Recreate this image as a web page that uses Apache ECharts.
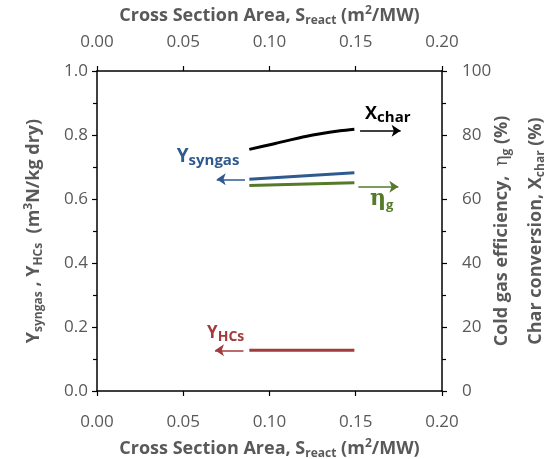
<!DOCTYPE html>
<html><head><meta charset="utf-8">
<script src="https://cdn.jsdelivr.net/npm/echarts@6/dist/echarts.min.js"></script>
<style>html,body{margin:0;padding:0;background:#fff}#c{width:547px;height:459px}</style>
</head><body><div id="c"></div>
<script>
// ---- data ----
const xTicks = [0.00, 0.05, 0.10, 0.15, 0.20];
const leftTicks = [0.0, 0.2, 0.4, 0.6, 0.8, 1.0];
const rightTicks = [0, 20, 40, 60, 80, 100];
// Char conversion X_char (%), right axis
const xcharX = [0.0883, 0.1022, 0.1216, 0.1409, 0.1492];
const xcharY = [75.5, 77.2, 79.6, 81.3, 81.8];
// Syngas yield (m3N/kg dry), left axis
const syngasX = [0.0883, 0.1492];
const syngasY = [0.662, 0.682];
// Cold gas efficiency (%), right axis
const etaX = [0.0883, 0.1492];
const etaY = [64.2, 65.1];
// HCs yield, left axis
const hcsX = [0.0883, 0.1492];
const hcsY = [0.127, 0.127];
// arrows: [x start, x end, y]
const arrowXchar = [0.1525, 0.176, 81.3];
const arrowEta = [0.1515, 0.1747, 63.8];
const arrowSyngas = [0.0858, 0.0694, 0.6616];
const arrowHcs = [0.0849, 0.0684, 0.127];
// label anchors: [x, y]
const labXchar = [0.1554, 86.5];
const labEta = [0.1583, 60.0];
const labSyngas = [0.0462, 0.733];
const labHcs = [0.0638, 0.181];

const C_BLACK = '#000000', C_BLUE = '#2F5A8F', C_GREEN = '#557A2A', C_RED = '#A23B3B';
const GREY = '#595959';
const FONT = 'Open Sans';

function pairs(xs, ys){ return xs.map((x,i)=>[x, ys[i]]); }
function arrow(a, color){
  return {
    silent: true, animation: false, symbol: ['none','arrow'], symbolSize: 9,
    label: {show:false},
    lineStyle: {color: color, width: 1.5, type: 'solid'},
    emphasis: {disabled: true},
    data: [[{coord:[a[0], a[2]]}, {coord:[a[1], a[2]]}]]
  };
}
function lab(pos, color, main, sub, mainSize, subSize, mainFont){
  return {
    silent: true, animation: false, symbol: 'circle', symbolSize: 0,
    data: [{coord: pos}],
    label: {
      show: true, position: 'inside', align: 'left', verticalAlign: 'middle',
      formatter: '{m|' + main + '}{s|' + sub + '}',
      rich: {
        m: {fontFamily: mainFont || FONT, fontWeight: 'bold', fontSize: mainSize, color: color, lineHeight: mainSize + 4, verticalAlign: 'middle'},
        s: {fontFamily: FONT, fontWeight: 'bold', fontSize: subSize, color: color, lineHeight: subSize, verticalAlign: 'bottom'}
      }
    }
  };
}
function titleRich(lh){
  return {
    t: {fontFamily: FONT, fontWeight: 'bold', fontSize: 18, color: GREY, lineHeight: lh, verticalAlign: 'middle'},
    sub: {fontFamily: FONT, fontWeight: 'bold', fontSize: 12, color: GREY, lineHeight: 12, verticalAlign: 'bottom', padding: [0,0,Math.max(0,(lh-22)/2),0]},
    sup: {fontFamily: FONT, fontWeight: 'bold', fontSize: 12, color: GREY, lineHeight: 12, verticalAlign: 'top', padding: [Math.max(0,(lh-22)/2),0,0,0]},
    g: {fontFamily: 'DejaVu Serif', fontWeight: 'normal', fontSize: 18, color: GREY, lineHeight: lh, verticalAlign: 'middle'}
  };
}
const xName = '{t|Cross Section Area, S}{sub|react}{t| (m}{sup|2}{t|/MW)}';

const axisLine = {show: true, onZero: false, lineStyle: {color: '#000', width: 1.5}};
const tickStyle = {show: true, length: 5, lineStyle: {color: '#000', width: 1.2}};
const labelStyle = {color: GREY, fontFamily: FONT, fontSize: 17};

const chart = echarts.init(document.getElementById('c'), null, {renderer: 'canvas'});
chart.setOption({
  animation: false,
  backgroundColor: '#fff',
  grid: {left: 97, right: 105, top: 71, bottom: 68, containLabel: false, outerBoundsMode: 'none'},
  xAxis: [
    {type: 'value', position: 'bottom', min: xTicks[0], max: xTicks[xTicks.length-1], interval: 0.05,
     axisLine: axisLine, axisTick: tickStyle, splitLine: {show:false},
     axisLabel: Object.assign({margin: 23, formatter: v => v.toFixed(2)}, labelStyle),
     name: xName, nameLocation: 'middle', nameGap: 47, nameMoveOverlap: false, nameTextStyle: {rich: titleRich(22)}},
    {type: 'value', position: 'top', min: xTicks[0], max: xTicks[xTicks.length-1], interval: 0.05,
     axisLine: axisLine, axisTick: tickStyle, splitLine: {show:false},
     axisLabel: Object.assign({margin: 20, formatter: v => v.toFixed(2)}, labelStyle),
     name: xName, nameLocation: 'middle', nameGap: 44, nameMoveOverlap: false, nameTextStyle: {rich: titleRich(22)}}
  ],
  yAxis: [
    {type: 'value', position: 'left', min: leftTicks[0], max: leftTicks[leftTicks.length-1], interval: 0.2,
     axisLine: axisLine, axisTick: tickStyle, splitLine: {show:false},
     minorTick: {show: true, splitNumber: 2, length: 4, lineStyle: {color:'#000', width: 1.2}},
     axisLabel: Object.assign({margin: 9, formatter: v => v.toFixed(1)}, labelStyle),
     name: '{t|Y}{sub|syngas}{t| , Y}{sub|HCs}{t|  (m}{sup|3}{t|N/kg dry)}',
     nameLocation: 'middle', nameGap: 52, nameMoveOverlap: false, nameTextStyle: {rich: titleRich(22)}},
    {type: 'value', position: 'right', min: rightTicks[0], max: rightTicks[rightTicks.length-1], interval: 20,
     axisLine: axisLine, axisTick: tickStyle, splitLine: {show:false},
     minorTick: {show: true, splitNumber: 2, length: 4, lineStyle: {color:'#000', width: 1.2}},
     axisLabel: Object.assign({margin: 20}, labelStyle),
     name: '{t|Cold gas efficiency,  }{g|η}{sub|g}{t| (%)}\n{t|Char conversion, X}{sub|char}{t| (%)}',
     nameLocation: 'middle', nameGap: 43, nameMoveOverlap: false, nameTextStyle: {rich: titleRich(34)}}
  ],
  series: [
    {name: 'X_char', type: 'line', xAxisIndex: 0, yAxisIndex: 1, smooth: 0.3, symbol: 'none',
     data: pairs(xcharX, xcharY), lineStyle: {color: C_BLACK, width: 3},
     markLine: arrow(arrowXchar, C_BLACK),
     markPoint: lab(labXchar, C_BLACK, 'X', 'char', 18, 15)},
    {name: 'Y_syngas', type: 'line', xAxisIndex: 0, yAxisIndex: 0, symbol: 'none',
     data: pairs(syngasX, syngasY), lineStyle: {color: C_BLUE, width: 3},
     markLine: arrow(arrowSyngas, C_BLUE),
     markPoint: lab(labSyngas, C_BLUE, 'Y', 'syngas', 19, 15)},
    {name: 'eta_g', type: 'line', xAxisIndex: 0, yAxisIndex: 1, symbol: 'none',
     data: pairs(etaX, etaY), lineStyle: {color: C_GREEN, width: 3},
     markLine: arrow(arrowEta, C_GREEN),
     markPoint: lab(labEta, C_GREEN, 'η', 'g', 22, 13, 'DejaVu Serif')},
    {name: 'Y_HCs', type: 'line', xAxisIndex: 0, yAxisIndex: 0, symbol: 'none',
     data: pairs(hcsX, hcsY), lineStyle: {color: C_RED, width: 3},
     markLine: arrow(arrowHcs, C_RED),
     markPoint: lab(labHcs, C_RED, 'Y', 'HCs', 17, 14)}
  ]
});
</script></body></html>
